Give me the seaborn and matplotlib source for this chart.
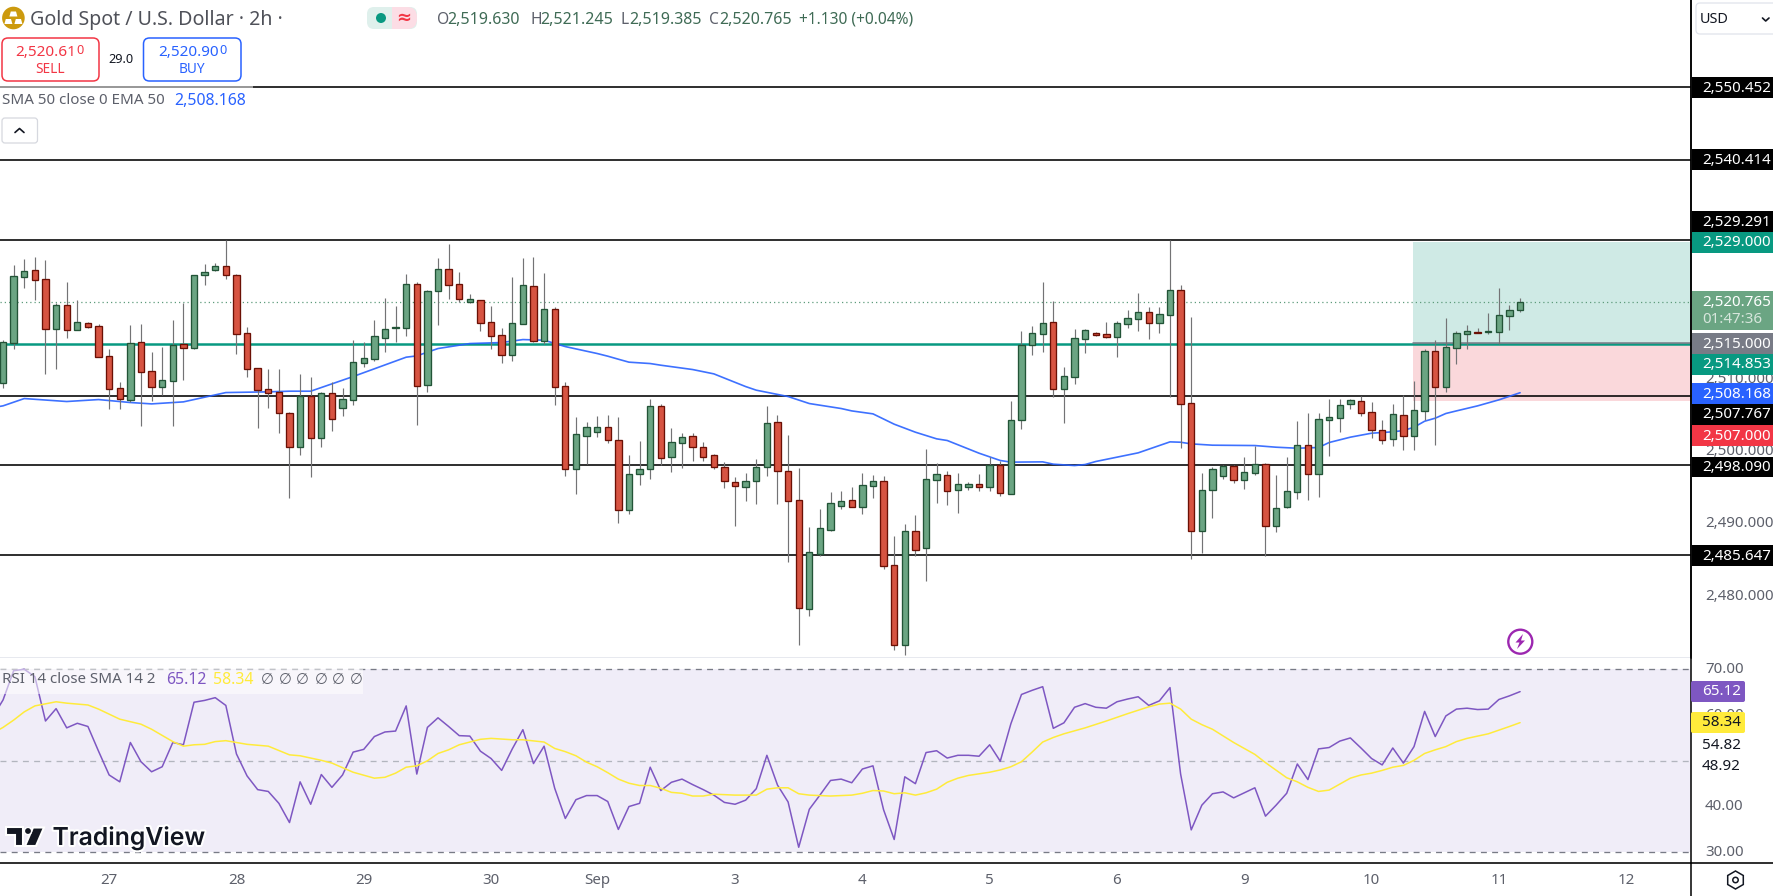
import numpy as np
import seaborn as sns
import matplotlib
matplotlib.use("Agg")
import matplotlib.pyplot as plt
from matplotlib import patheffects
from matplotlib.patches import Circle, FancyBboxPatch, Polygon, Rectangle, RegularPolygon
from matplotlib.transforms import ScaledTranslation

# gold 2h candles
opens = [2509.58, 2515.12, 2524.26, 2525.14, 2523.89, 2517.06, 2520.29, 2516.92, 2517.80, 2517.38,
         2513.23, 2508.79, 2507.22, 2515.17, 2511.15, 2509.02, 2509.86, 2514.89, 2514.43, 2524.54,
         2525.23, 2525.69, 2524.45, 2516.41, 2511.56, 2508.66, 2508.24, 2505.33, 2500.58, 2507.69,
         2501.96, 2508.10, 2506.12, 2507.22, 2512.35, 2512.90, 2515.81, 2517.20, 2517.20, 2523.20,
         2509.30, 2522.32, 2525.28, 2523.20, 2520.80, 2520.98, 2517.94, 2516.14, 2513.46, 2517.75,
         2522.92, 2515.40, 2519.74, 2509.07, 2497.67, 2502.24, 2502.79, 2503.39, 2501.59, 2491.99,
         2496.97, 2497.67, 2506.30, 2499.33, 2501.27, 2502.15, 2500.62, 2499.51, 2497.90, 2495.77,
         2495.17, 2495.87, 2497.81, 2504.08, 2497.30, 2493.28, 2478.14, 2485.89, 2489.17, 2492.54,
         2493.28, 2492.27, 2495.31, 2495.91, 2484.28, 2473.29, 2488.99, 2486.59, 2496.14, 2496.74,
         2494.76, 2495.17, 2495.50, 2495.17, 2498.13, 2494.20, 2504.32, 2514.75, 2516.37, 2517.94,
         2508.75, 2510.41, 2515.67, 2516.41, 2516.27, 2515.95, 2517.75, 2518.44, 2519.32, 2517.89,
         2519.00, 2522.37, 2506.72, 2489.08, 2494.76, 2496.70, 2497.99, 2496.01, 2497.11, 2498.27,
         2489.77, 2492.27, 2494.48, 2500.90, 2496.84, 2504.45, 2504.73, 2506.67, 2506.99, 2505.47,
         2502.98, 2501.82, 2505.05, 2502.24, 2505.70, 2513.92, 2509.02, 2514.43, 2516.37, 2516.55,
         2516.64, 2516.64, 2518.86, 2519.63]
highs = [2515.49, 2525.88, 2526.71, 2526.99, 2526.57, 2520.57, 2523.52, 2521.03, 2517.98, 2517.70,
         2514.20, 2509.63, 2517.57, 2517.70, 2513.83, 2514.52, 2518.26, 2520.61, 2524.49, 2526.02,
         2526.15, 2529.29, 2524.63, 2517.29, 2511.66, 2511.47, 2511.47, 2505.47, 2510.78, 2510.36,
         2508.24, 2509.63, 2508.84, 2515.49, 2515.21, 2518.26, 2521.31, 2520.20, 2524.63, 2523.52,
         2522.41, 2526.85, 2528.79, 2524.91, 2521.86, 2521.03, 2520.20, 2517.15, 2524.22, 2526.85,
         2526.99, 2524.77, 2520.01, 2509.63, 2504.82, 2504.13, 2504.96, 2505.10, 2504.82, 2499.56,
         2501.50, 2507.32, 2506.62, 2503.30, 2502.61, 2502.61, 2501.36, 2499.70, 2498.59, 2496.51,
         2497.07, 2499.01, 2506.35, 2505.10, 2502.33, 2497.76, 2489.59, 2492.08, 2494.44, 2494.57,
         2495.13, 2497.07, 2496.79, 2496.65, 2488.34, 2490.00, 2491.25, 2500.39, 2498.45, 2497.34,
         2497.07, 2495.82, 2496.93, 2499.28, 2498.73, 2507.04, 2516.74, 2517.43, 2523.52, 2520.84,
         2511.75, 2517.01, 2517.01, 2516.64, 2517.98, 2518.12, 2519.64, 2522.00, 2520.06, 2520.06,
         2529.34, 2523.11, 2518.67, 2497.07, 2497.90, 2498.18, 2498.18, 2499.28, 2500.81, 2498.45,
         2496.79, 2499.28, 2504.27, 2505.38, 2505.38, 2507.32, 2507.32, 2507.32, 2507.73, 2506.90,
         2504.41, 2506.62, 2507.87, 2509.81, 2514.24, 2515.49, 2518.54, 2516.69, 2517.57, 2517.15,
         2519.23, 2522.69, 2520.34, 2521.245]
lows = [2508.89, 2514.24, 2522.69, 2521.03, 2510.78, 2511.47, 2515.77, 2516.92, 2517.15, 2513.18,
        2505.93, 2505.93, 2506.86, 2503.58, 2507.04, 2507.87, 2503.58, 2509.95, 2514.24, 2523.11,
        2525.05, 2523.94, 2513.55, 2510.36, 2503.30, 2506.07, 2502.61, 2493.60, 2499.56, 2496.51,
        2500.67, 2502.88, 2504.96, 2506.49, 2511.75, 2512.58, 2513.83, 2515.21, 2516.04, 2503.72,
        2508.29, 2517.57, 2521.17, 2520.75, 2520.66, 2516.74, 2514.24, 2512.30, 2512.58, 2517.66,
        2515.21, 2514.98, 2506.49, 2496.65, 2494.16, 2498.31, 2502.10, 2501.27, 2490.14, 2491.39,
        2495.40, 2496.24, 2498.18, 2497.21, 2497.76, 2498.73, 2498.73, 2497.67, 2494.99, 2489.73,
        2493.19, 2492.77, 2496.65, 2492.77, 2484.74, 2473.24, 2477.26, 2485.57, 2489.03, 2492.08,
        2492.27, 2491.39, 2493.60, 2483.77, 2472.55, 2471.86, 2485.57, 2482.11, 2492.91, 2492.63,
        2491.53, 2494.76, 2494.57, 2494.57, 2493.88, 2494.07, 2503.16, 2513.41, 2513.83, 2507.64,
        2503.99, 2509.39, 2513.69, 2516.00, 2515.77, 2513.13, 2517.15, 2516.74, 2515.63, 2516.46,
        2507.64, 2500.53, 2485.20, 2486.03, 2490.88, 2496.24, 2495.68, 2494.85, 2496.79, 2485.57,
        2488.90, 2492.17, 2493.47, 2493.33, 2493.74, 2499.42, 2502.75, 2505.93, 2504.96, 2501.91,
        2501.08, 2500.81, 2500.25, 2500.25, 2504.41, 2500.95, 2508.29, 2512.16, 2514.24, 2516.41,
        2516.32, 2514.93, 2516.87, 2519.385]
closes = [2515.17, 2524.31, 2525.00, 2523.85, 2517.06, 2520.29, 2516.92, 2517.94, 2517.34, 2513.18,
          2508.75, 2507.36, 2515.03, 2511.10, 2509.02, 2509.90, 2514.75, 2514.43, 2524.45, 2524.86,
          2525.69, 2524.54, 2516.37, 2511.52, 2508.61, 2508.19, 2505.29, 2500.58, 2507.69, 2501.96,
          2508.10, 2504.59, 2507.27, 2512.40, 2512.95, 2516.00, 2516.97, 2517.24, 2523.20, 2509.16,
          2522.23, 2525.28, 2523.15, 2521.21, 2521.12, 2517.89, 2516.09, 2513.46, 2517.80, 2523.06,
          2515.40, 2519.74, 2509.02, 2497.67, 2502.42, 2503.39, 2503.39, 2501.55, 2491.99, 2496.88,
          2497.57, 2506.30, 2499.19, 2501.31, 2502.01, 2500.58, 2499.33, 2497.81, 2495.87, 2495.31,
          2495.91, 2497.90, 2503.95, 2497.39, 2493.23, 2478.28, 2486.08, 2489.40, 2492.87, 2493.14,
          2492.27, 2495.36, 2495.91, 2484.23, 2473.29, 2488.99, 2486.45, 2496.19, 2496.88, 2494.62,
          2495.50, 2495.50, 2495.17, 2498.13, 2494.34, 2504.36, 2514.75, 2516.41, 2517.80, 2508.75,
          2510.46, 2515.72, 2516.83, 2516.23, 2515.95, 2517.80, 2518.49, 2519.32, 2517.89, 2519.04,
          2522.37, 2506.67, 2489.08, 2494.67, 2497.57, 2497.99, 2496.01, 2497.16, 2498.27, 2489.77,
          2492.17, 2494.53, 2500.90, 2496.84, 2504.50, 2504.78, 2506.44, 2507.13, 2505.42, 2503.07,
          2501.68, 2505.19, 2502.24, 2505.75, 2513.92, 2509.02, 2514.47, 2516.41, 2516.69, 2516.46,
          2516.69, 2518.91, 2519.60, 2520.765]

# EMA 50, read at its bends (bar -1 is off the left edge)
ema_bars = [-1, 0, 2, 6, 9, 12, 14, 17, 21, 25, 27, 29, 33, 38, 39, 41, 44, 47, 49, 51, 53, 56, 57, 58, 59,
            61, 62, 65, 67, 70, 71, 74, 76, 79, 80, 82, 84, 86, 88, 89, 92, 94, 95, 98, 99, 101, 102,
            103, 107, 110, 111, 112, 114, 118, 120, 122, 124, 125, 127, 129, 131, 132, 133, 134, 135,
            136, 137, 139, 141, 143]
ema_vals = [2506.10, 2506.35, 2507.36, 2506.95, 2507.22, 2506.81, 2506.62, 2506.90, 2508.19, 2508.29, 2508.38,
            2508.38, 2510.41, 2513.09, 2513.27, 2514.29, 2514.98, 2515.12, 2515.53, 2515.44, 2514.56,
            2513.60, 2513.23, 2512.81, 2512.40, 2512.21, 2511.98, 2511.38, 2510.78, 2509.02, 2508.52,
            2507.64, 2506.67, 2505.98, 2505.65, 2505.24, 2503.81, 2502.70, 2501.78, 2501.55, 2499.79,
            2498.78, 2498.55, 2498.59, 2498.27, 2498.08, 2498.22, 2498.64, 2499.84, 2501.36, 2501.31,
            2501.08, 2500.90, 2500.85, 2500.62, 2500.48, 2500.58, 2501.27, 2502.01, 2502.56, 2502.75,
            2502.93, 2503.39, 2504.22, 2504.64, 2505.29, 2505.65, 2506.35, 2507.18, 2508.168]

# first value belongs to bar -1, off the left edge
rsi_vals = [59.5, 63.3, 69.7, 70.0, 68.4, 58.7, 61.4, 57.2, 58.2, 57.5, 52.1,
            46.9, 45.4, 54.0, 49.8, 47.6, 48.7, 54.0, 53.5, 62.8, 63.2,
            63.8, 62.1, 51.5, 46.7, 43.7, 43.3, 40.7, 36.5, 45.4, 40.5,
            47.0, 44.2, 46.9, 51.9, 52.5, 55.3, 56.3, 56.5, 62.0, 47.1,
            57.3, 59.4, 57.5, 55.5, 55.4, 52.1, 50.5, 47.9, 52.6, 56.8,
            49.4, 53.2, 44.0, 37.4, 41.5, 42.4, 42.4, 41.1, 35.0, 40.0,
            40.7, 48.6, 43.5, 45.3, 46.0, 44.8, 43.7, 42.5, 40.9, 40.5,
            41.4, 43.9, 51.2, 44.7, 41.0, 31.1, 39.4, 42.5, 45.7, 46.0,
            45.2, 48.2, 48.9, 39.3, 32.8, 46.5, 45.0, 51.8, 52.2, 50.6,
            51.2, 51.2, 51.0, 53.5, 49.9, 58.1, 64.5, 65.4, 66.2, 57.1,
            58.3, 61.7, 62.5, 61.7, 61.5, 62.9, 63.5, 64.0, 62.1, 63.1,
            66.0, 47.1, 34.9, 40.3, 42.8, 43.2, 41.9, 43.0, 44.1, 37.9,
            40.3, 42.9, 49.3, 45.9, 52.6, 52.9, 54.3, 55.0, 52.8, 50.5,
            49.1, 52.8, 49.5, 53.1, 60.8, 55.3, 59.8, 61.3, 61.5, 61.2,
            61.3, 63.4, 64.2, 65.12]

# RSI smoothing line, read at its bends
rsi_sma_bars = [-1, 0, 1, 2, 3, 5, 6, 8, 9, 11, 13, 14, 16, 17, 18, 19, 20, 21, 23, 25, 27, 28, 30, 31, 33,
                35, 36, 37, 38, 39, 40, 41, 42, 43, 45, 46, 48, 49, 51, 52, 53, 54, 55, 56, 57, 58, 59,
                60, 61, 62, 63, 64, 65, 66, 67, 69, 71, 72, 73, 74, 75, 76, 78, 80, 81, 82, 83, 84, 85,
                86, 87, 88, 89, 90, 91, 93, 94, 95, 96, 97, 98, 99, 100, 102, 104, 106, 108, 109, 110,
                111, 112, 113, 114, 116, 117, 118, 119, 121, 122, 123, 124, 125, 126, 127, 128, 129,
                130, 131, 132, 133, 134, 135, 136, 137, 138, 139, 140, 141, 142, 143]
rsi_sma_vals = [56.0, 57.3, 58.9, 60.7, 62.0, 62.9, 62.6, 62.2, 61.3, 59.1, 58.0, 56.9, 54.2, 53.2, 53.5, 53.6,
                54.2, 54.4, 53.6, 53.2, 51.3, 51.1, 50.1, 49.5, 47.5, 46.2, 46.4, 47.3, 48.6, 48.9, 50.0,
                51.6, 52.4, 53.5, 54.7, 54.9, 54.6, 54.6, 54.1, 52.7, 52.0, 51.1, 49.7, 48.7, 47.4, 46.0,
                45.1, 44.6, 44.6, 44.0, 43.1, 42.9, 42.3, 42.3, 42.7, 42.5, 42.5, 43.8, 44.1, 44.1, 42.8,
                42.5, 42.3, 42.5, 42.9, 43.5, 43.4, 42.8, 43.0, 42.5, 43.0, 43.8, 45.3, 46.2, 46.8, 47.5,
                48.0, 48.7, 49.8, 51.9, 54.1, 55.1, 55.9, 57.2, 58.7, 60.3, 61.8, 62.4, 62.6, 61.3, 59.1,
                57.9, 56.9, 54.0, 52.7, 51.4, 49.6, 46.3, 45.4, 44.2, 43.3, 43.6, 44.9, 46.2, 46.9, 47.3,
                47.9, 48.6, 49.0, 50.1, 51.6, 52.4, 53.1, 54.2, 54.9, 55.4, 55.9, 56.7, 57.5, 58.34]

level_lines = [2550.452, 2540.414, 2529.291, 2507.767, 2498.090, 2485.647]
support_line = 2514.853
last_price = 2520.765
trade_entry = 2515.0
trade_target = 2529.0
trade_stop = 2507.0
trade_start_bar = 132.9

price_ticks = [2480, 2490, 2500, 2510]
rsi_ticks = [30, 40, 60, 70]
rsi_guides = [70, 50, 30]
day_bars = [10, 22, 34, 46, 56, 69, 81, 93, 105, 117, 129, 141, 153]
day_labels = ['27', '28', '29', '30', 'Sep', '3', '4', '5', '6', '9', '10', '11', '12']

W, H = 1773, 896
AXIS_X = 1691
GRAY = '#5d606b'
FONT = 'Noto Sans'
UP, UP_EDGE = '#6BA583', '#225437'
DOWN, DOWN_EDGE = '#D75442', '#6B1005'

sns.set_theme(style='white')
plt.rcParams['font.family'] = [FONT, 'DejaVu Sans']

fig = plt.figure(figsize=(W / 100, H / 100), dpi=100, facecolor='white')
ax = fig.add_axes([0, (H - 658) / H, AXIS_X / W, 658 / H])
ax_rsi = fig.add_axes([0, (H - 863) / H, AXIS_X / W, 205 / H], sharex=ax)

bars = np.arange(len(opens))
o, h, l, c = map(np.array, (opens, highs, lows, closes))
is_up = c >= o
body_low = np.minimum(o, c)
body_size = np.abs(c - o)

# trade box and levels sit under the candles
ax.axhspan(trade_entry, trade_target, xmin=(trade_start_bar + 0.288) / 159.4, color='#CFEAE5', lw=0, zorder=1)
ax.axhspan(trade_stop, trade_entry, xmin=(trade_start_bar + 0.288) / 159.4, color='#FAD8DB', lw=0, zorder=1)
for lvl in level_lines:
    ax.axhline(lvl, color='black', lw=1.15, zorder=2)
ax.axhline(support_line, color='#089981', lw=1.8, zorder=2)
ax.plot([trade_start_bar, 159.2], [trade_entry, trade_entry], color='#787B86', lw=1.1, zorder=2)
ax.axhline(last_price, color='#5f9c7c', lw=0.9, ls=(0, (1, 2.4)), zorder=2)
sns.lineplot(x=ema_bars, y=ema_vals, ax=ax, color='#2962FF', lw=1.2, alpha=0.9, zorder=3,
             estimator=None, errorbar=None)

ax.vlines(bars, l, h, color='#737375', lw=0.85, zorder=4)
for mask, face, edge in [(is_up, UP, UP_EDGE), (~is_up, DOWN, DOWN_EDGE)]:
    ax.bar(bars[mask], body_size[mask], bottom=body_low[mask], width=0.6, color=face,
           edgecolor=edge, linewidth=0.95, zorder=5)

ax.set_xlim(-0.288, 159.11)
ax.set_ylim(2471.42, 2562.57)
ax.set_xlabel('')
ax.set_ylabel('')
ax.yaxis.tick_right()
ax.set_yticks(price_ticks)
ax.set_yticklabels([f'{p:,.3f}' for p in price_ticks], color=GRAY, fontsize=10.9)
ax.tick_params(axis='y', length=0, pad=10)
ax.tick_params(axis='x', length=0, labelbottom=False)

# RSI pane
ax_rsi.axhspan(30, 70, color='#F0EDF8', lw=0, zorder=1)
for g, col in zip(rsi_guides, ['#787B86', '#b2b5be', '#787B86']):
    ax_rsi.axhline(g, color=col, lw=0.95, ls=(0, (4.5, 4)), zorder=2)
sns.lineplot(x=np.arange(-1, len(opens)), y=rsi_vals, ax=ax_rsi, color='#7E57C2', lw=1.1, zorder=3,
             estimator=None, errorbar=None)
sns.lineplot(x=rsi_sma_bars, y=rsi_sma_vals, ax=ax_rsi, color='#FFEB3B', lw=1.1, zorder=3,
             estimator=None, errorbar=None)
ax_rsi.set_ylim(27.66, 72.47)
ax_rsi.set_xlabel('')
ax_rsi.set_ylabel('')
ax_rsi.yaxis.tick_right()
ax_rsi.set_yticks(rsi_ticks)
ax_rsi.set_yticklabels([f'{t:.2f}' for t in rsi_ticks], color=GRAY, fontsize=10.9)
ax_rsi.tick_params(axis='y', length=0, pad=10)
ax_rsi.set_xticks(day_bars)
ax_rsi.set_xticklabels(day_labels, color=GRAY, fontsize=10.9)
ax_rsi.tick_params(axis='x', length=0, pad=7)
for lab in ax_rsi.get_xticklabels():
    if lab.get_text() == 'Sep':
        lab.set_fontweight('bold')

# axis labels sit a little higher than the tick position
nudge = ScaledTranslation(0, 2 / 100, fig.dpi_scale_trans)
for a in (ax, ax_rsi):
    for lab in a.get_yticklabels():
        lab.set_transform(lab.get_transform() + nudge)

for a in (ax, ax_rsi):
    for side in ('left', 'top', 'bottom'):
        a.spines[side].set_visible(False)
    a.spines['right'].set_color('black')
    a.spines['right'].set_linewidth(1.1)
ax.spines['bottom'].set_visible(True)
ax.spines['bottom'].set_color('#E0E3EB')
ax.spines['bottom'].set_linewidth(1.1)

# everything around the chart, in picture pixels
ov = fig.add_axes([0, 0, 1, 1], facecolor='none')
ov.set_xlim(0, W)
ov.set_ylim(H, 0)
ov.axis('off')


def label(x, y, s, color=GRAY, size=10.9, ha='left', **kw):
    return ov.text(x, y + 1.5, s, color=color, fontsize=size, ha=ha, va='center', **kw)


def box(x0, y0, x1, y1, face='none', edge='none', lw=1.0, rad=5, **kw):
    ov.add_patch(FancyBboxPatch((x0 + rad, y0 + rad), x1 - x0 - 2 * rad, y1 - y0 - 2 * rad,
                                boxstyle=f'round,pad={rad}', fc=face, ec=edge, lw=lw, **kw))


# bottom rule and axis line run down to the picture edge
ov.plot([0, W], [863, 863], color='black', lw=1.15)
ov.plot([AXIS_X, AXIS_X], [863, H], color='black', lw=1.1)
ov.plot([AXIS_X, AXIS_X], [0, 658], color='black', lw=1.1)

# price tags, stacked the way the chart stacks them
tags = [('2,550.452', 77, 98, 'black'), ('2,540.414', 149, 170, 'black'), ('2,529.291', 211, 232, 'black'),
        ('2,529.000', 232, 253, 'teal'), ('2,515.000', 333, 354, '#787B86'), ('2,514.853', 354, 375, 'teal'),
        ('2,508.168', 383, 404, '#2962FF'), ('2,507.767', 404, 425, 'black'), ('2,507.000', 425, 446, '#F23645'),
        ('2,498.090', 457, 477, 'black'), ('2,485.647', 545, 566, 'black')]
for txt, y0, y1, col in tags:
    col = '#089981' if col == 'teal' else col
    ov.add_patch(Rectangle((AXIS_X + 0.5, y0), W - AXIS_X, y1 - y0, fc=col, ec='none'))
    label(1702, (y0 + y1) / 2 - 1, txt, color='white')
ov.add_patch(Rectangle((AXIS_X + 0.5, 291), W - AXIS_X, 39, fc='#6BA583', ec='none'))
label(1702, 300.5, '2,520.765', color='white')
label(1702, 318, '01:47:36', color='#d7e6dc')

# RSI tags
box(AXIS_X, 681, 1745, 702, face='#7E57C2', rad=2)
label(1702, 690, '65.12', color='white')
box(AXIS_X, 712, 1745, 733, face='#FFEB3B', rad=2)
label(1702, 721, '58.34', color='#131722')
label(1702, 744, '54.82', color='#131722')
label(1702, 764.5, '48.92', color='#131722')

# header
ov.add_patch(Circle((13.4, 18), 11.3, fc='#CC9A0E', ec='none'))
for cx, cy in [(13.4, 14), (8.4, 21.5), (18.4, 21.5)]:
    ov.add_patch(Polygon([(cx - 4, cy + 2.5), (cx + 4, cy + 2.5), (cx + 2.6, cy - 2.5), (cx - 2.6, cy - 2.5)],
                         fc='white', ec='none'))
label(30, 18, 'Gold Spot / U.S. Dollar · 2h ·', color='#4f5159', size=14.1)

ov.add_patch(FancyBboxPatch((374, 14), 36, 8, boxstyle='round,pad=7', fc='#DFF0EC', ec='none'))
ov.add_patch(Rectangle((392, 7), 14, 22, fc='#FCDDE5', ec='none'))
box(395, 7, 417, 29, face='#FCDDE5', rad=10)
ov.add_patch(Circle((381, 18), 5, fc='#089981', ec='none'))
label(404, 16.5, '≈', color='#F23645', size=13, ha='center', family='DejaVu Sans', fontweight='bold')

val_col = '#3f6b55'
ohlc_letters = ['O', 'H', 'L', 'C']
ohlc_texts = ['2,519.630', '2,521.245', '2,519.385', '2,520.765']
ohlc_x = [437, 530, 620.5, 708.5]
ohlc_val_x = [447, 540.5, 629, 719]
for letter, txt, x, vx in zip(ohlc_letters, ohlc_texts, ohlc_x, ohlc_val_x):
    label(x, 18, letter, color='#5d606b', size=11.2)
    label(vx, 18, txt, color=val_col, size=11.5)
label(799, 18, '+1.130 (+0.04%)', color=val_col, size=11.2)

box(2, 38, 99, 81, edge='#F23645', lw=1.1, rad=6)
box(143.5, 38, 241, 81, edge='#2962FF', lw=1.1, rad=6)
label(15, 50.5, '2,520.61', color='#F23645', size=11, fontweight='semibold')
label(76, 49, '0', color='#F23645', size=9.2)
label(50, 68, 'SELL', color='#F23645', size=9.8, ha='center')
label(158, 50.5, '2,520.90', color='#2962FF', size=11, fontweight='semibold')
label(219, 49, '0', color='#2962FF', size=9.2)
label(192, 68, 'BUY', color='#2962FF', size=9.8, ha='center')
label(121, 58, '29.0', color='#131722', size=9.2, ha='center')

# legend backdrop washes out the top level line behind it
ov.add_patch(Rectangle((0, 84), 253, 6, fc='white', alpha=0.5, ec='none'))
label(2, 99.5, 'SMA 50 close 0 EMA 50', color='#5d606b', size=10.9)
label(174, 99.5, '2,508.168', color='#2962FF', size=11.4)
box(2, 118, 37.5, 143, face='white', edge='#D6D8DF', lw=0.9, rad=3)
ov.plot([15, 19.5, 24], [132.5, 128.5, 132.5], color='#131722', lw=1.2)

box(1696, 3, 1790, 34, face='white', edge='#E0E3EB', lw=0.9, rad=4)
label(1700, 18, 'USD', color='#131722', size=10.4)
ov.plot([1762.5, 1765.7, 1769], [18, 21, 18], color='#131722', lw=1.2)

# RSI legend and logo
ov.add_patch(Rectangle((0, 669), 363, 25, fc='white', alpha=0.55, ec='none'))
label(2, 678, 'RSI 14 close SMA 14 2', color='#5d606b', size=10.9)
label(166, 678, '65.12', color='#7E57C2', size=11.4)
label(213.5, 678, '58.34', color='#FFEB3B', size=11.4, fontweight='semibold')
for x in [261, 279, 296, 315, 332, 350]:
    label(x, 678, '∅', color='#5d606b', size=10.6, family='DejaVu Sans')

halo = [patheffects.withStroke(linewidth=3, foreground='white')]
logo_t = Polygon([(6, 827.5), (23, 827.5), (23, 846), (15, 846), (15, 835), (6, 835)], fc='#131722', ec='white', lw=1.5)
logo_s = Polygon([(33, 827.5), (44, 827.5), (36, 846), (25, 846)], fc='#131722', ec='white', lw=1.5)
ov.add_patch(logo_t)
ov.add_patch(logo_s)
ov.add_patch(Circle((28, 831), 3.6, fc='#131722', ec='white', lw=1.0))
label(52.5, 836, 'TradingView', color='#131722', size=17.8, fontweight='semibold', family='Inter',
      path_effects=halo)

# small icons
ov.add_patch(Circle((1520.3, 641.7), 12, fc='white', ec='#9C27B0', lw=1.7))
ov.add_patch(Polygon([(1523, 634), (1515.5, 642.5), (1519.5, 642.5), (1517, 649), (1525, 640.5), (1521, 640.5)],
                     fc='#9C27B0', ec='none'))
ov.add_patch(RegularPolygon((1735.5, 880), 6, radius=9, fc='white', ec='#131722', lw=1.1))
ov.add_patch(Circle((1735.5, 880), 2.7, fc='white', ec='#131722', lw=1.1))

fig.savefig('out.png', dpi=100)
